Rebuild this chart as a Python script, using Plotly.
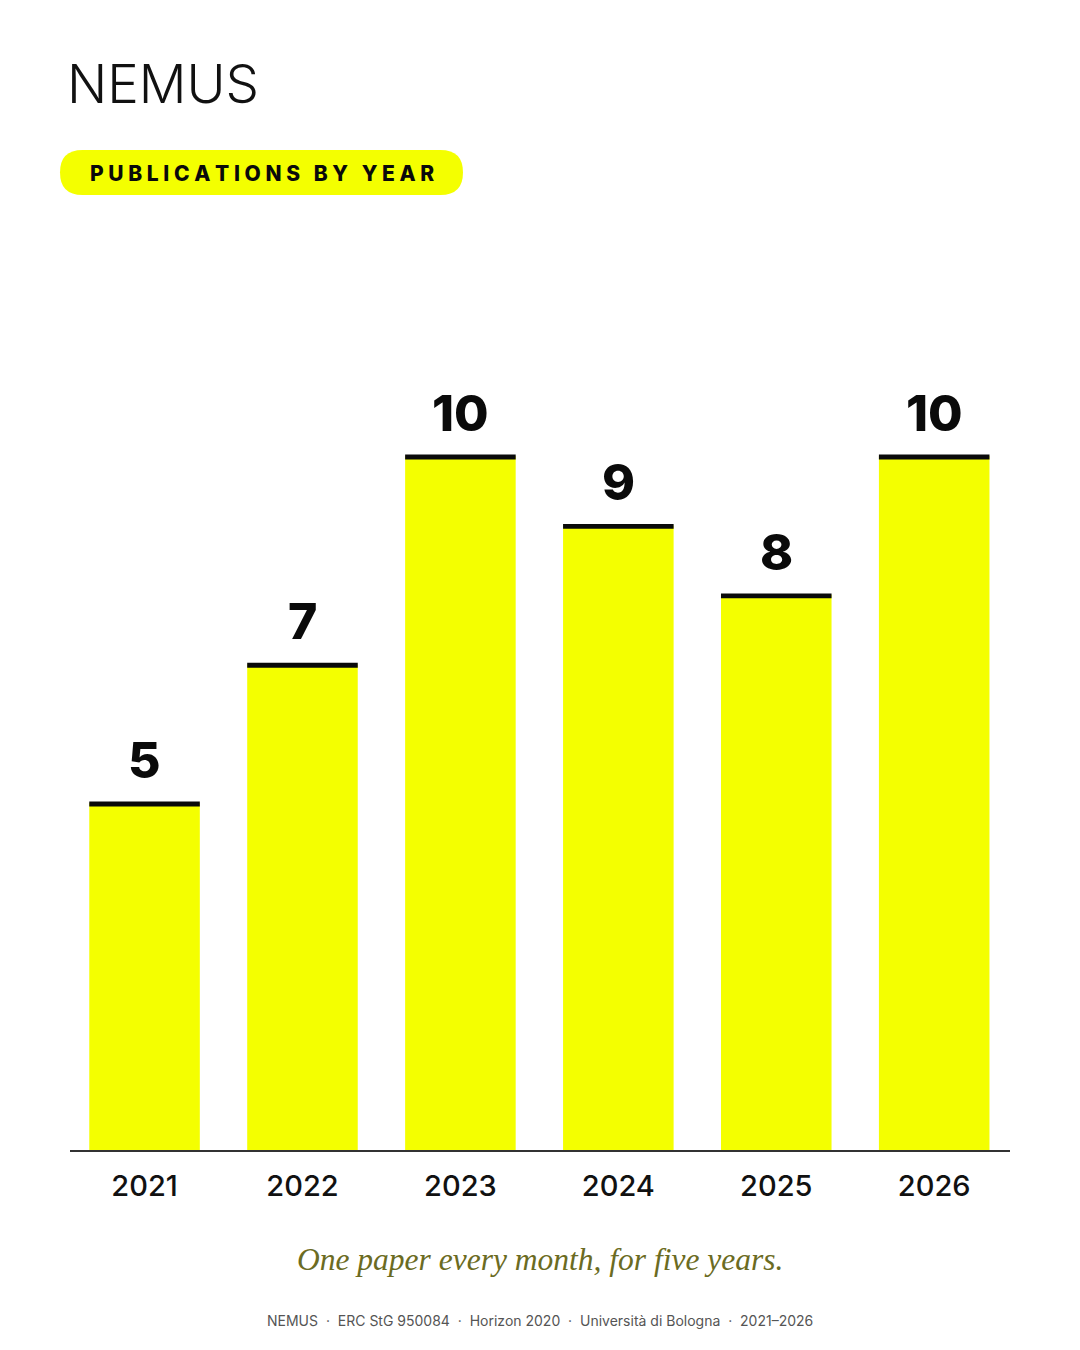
import plotly.graph_objects as go

years = ["2021", "2022", "2023", "2024", "2025", "2026"]
pubs = [5, 7, 10, 9, 8, 10]

W, H = 1080, 1350
OFF = 8  # page body margin
YELLOW = "#F4FF00"
CAP = 0.07


def fx(px):
    return (px - OFF) / W


def fy(py):
    return 1 - (py - OFF) / H


fig = go.Figure()
fig.add_trace(go.Bar(x=years, y=pubs, width=0.7, marker=dict(color=YELLOW, line=dict(width=0)),
                     hoverinfo="skip"))
fig.add_trace(go.Bar(x=years, y=[CAP] * len(pubs), base=[v - 0.05 for v in pubs], width=0.7,
                     marker=dict(color="#0a0a0a", line=dict(width=0)), hoverinfo="skip"))

for i, v in enumerate(pubs):
    fig.add_annotation(x=i, y=v, xref="x", yref="y", text=str(v), showarrow=False,
                       yanchor="bottom", yshift=11,
                       font=dict(family="Inter", size=50, color="#0a0a0a", weight=800))

ytop_px = 1150 - 12 * 69.4
fig.update_layout(
    width=W, height=H, margin=dict(l=0, r=0, t=0, b=0),
    paper_bgcolor="white", plot_bgcolor="white",
    barmode="overlay", showlegend=False,
    xaxis=dict(domain=[fx(70), fx(1010)], range=[-0.472, 5.48], type="category",
               showline=True, linecolor="#333333", linewidth=2, showgrid=False, zeroline=False,
               ticks="", ticklabelstandoff=9,
               tickfont=dict(family="Inter", size=29, color="#111111", weight=500)),
    yaxis=dict(domain=[fy(1150), fy(ytop_px)], range=[0, 12], visible=False, showgrid=False),
)

# logo
fig.add_annotation(x=fx(65), y=fy(84), xref="paper", yref="paper", xanchor="left", yanchor="middle",
                   text="NEMUS", showarrow=False,
                   font=dict(family="Inter", size=53, color="#111111", weight=300))

# pill
r = 22.5
px0, px1, py0, py1 = 60, 463, 150, 195


def P(x, y):
    return f"{fx(x)},{fy(y)}"


my = (py0 + py1) / 2
path = (f"M {P(px0 + r, py0)} L {P(px1 - r, py0)} "
        f"Q {P(px1, py0)} {P(px1, my)} Q {P(px1, py1)} {P(px1 - r, py1)} "
        f"L {P(px0 + r, py1)} Q {P(px0, py1)} {P(px0, my)} Q {P(px0, py0)} {P(px0 + r, py0)} Z")
fig.add_shape(type="path", path=path, xref="paper", yref="paper", fillcolor=YELLOW, line=dict(width=0),
              layer="below")
sp = "\u2009\u200a"
pill_text = ("\u2002\u2009").join(sp.join(list(w)) for w in ["PUBLICATIONS", "BY", "YEAR"])
fig.add_annotation(x=fx(262), y=fy(174), xref="paper", yref="paper", xanchor="center", yanchor="middle",
                   text=pill_text, showarrow=False,
                   font=dict(family="Inter", size=21, color="#0a0a0a", weight=800))

fig.add_annotation(x=fx(540), y=fy(1259), xref="paper", yref="paper", xanchor="center", yanchor="middle",
                   text="<i>One paper every month, for five years.</i>", showarrow=False,
                   font=dict(family="Liberation Serif", size=31.5, color="#6b6b22"))

fig.add_annotation(x=fx(540), y=fy(1320), xref="paper", yref="paper", xanchor="center", yanchor="middle",
                   text="NEMUS  ·  ERC StG 950084  ·  Horizon 2020  ·  Università di Bologna  ·  2021–2026",
                   showarrow=False,
                   font=dict(family="Inter", size=14, color="#555555"))

fig.write_html("out.html")
